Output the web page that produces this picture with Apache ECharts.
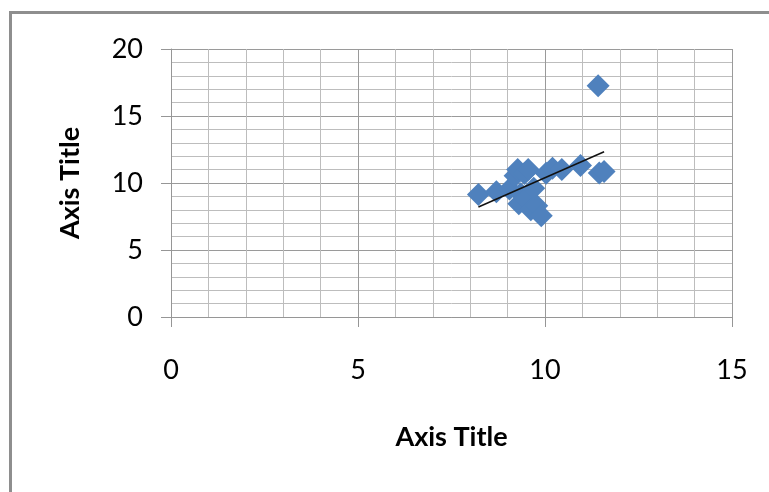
<!DOCTYPE html>
<html>
<head>
<meta charset="utf-8">
<script src="https://cdn.jsdelivr.net/npm/echarts@6/dist/echarts.min.js"></script>
<style>
html,body{margin:0;padding:0;background:#fff;}
#wrap{position:relative;width:769px;height:492px;overflow:hidden;background:#fff;}
#frame{position:absolute;left:9px;top:11px;width:800px;height:520px;border-left:3px solid #8e8e8e;border-top:3px solid #8e8e8e;}
#chart{position:absolute;left:0;top:0;width:769px;height:492px;}
</style>
</head>
<body>
<div id="wrap"><div id="frame"></div><div id="chart"></div></div>
<script>
// Data
var xValues = [8.22, 8.70, 9.05, 9.20, 9.27, 9.45, 9.55, 9.35, 9.30, 9.50, 9.62, 9.78, 9.90, 9.70, 10.03, 10.20, 10.45, 10.95, 11.45, 11.58, 11.42];
var yValues = [9.15, 9.35, 9.55, 10.55, 11.00, 10.70, 11.00, 9.20, 8.45, 8.80, 8.00, 8.30, 7.55, 9.60, 10.72, 11.10, 11.00, 11.30, 10.75, 10.85, 17.25];
var xTicks = [0, 5, 10, 15];
var yTicks = [0, 5, 10, 15, 20];
var xTitle = 'Axis Title';
var yTitle = 'Axis Title';

var points = xValues.map(function (x, i) { return [x, yValues[i]]; });

// Linear trendline (least squares) computed from the data
var n = xValues.length, mx = 0, my = 0;
for (var i = 0; i < n; i++) { mx += xValues[i]; my += yValues[i]; }
mx /= n; my /= n;
var sxy = 0, sxx = 0;
for (var j = 0; j < n; j++) { sxy += (xValues[j] - mx) * (yValues[j] - my); sxx += (xValues[j] - mx) * (xValues[j] - mx); }
var slope = sxy / sxx, icpt = my - slope * mx;
var xmin = Math.min.apply(null, xValues), xmax = Math.max.apply(null, xValues);
var trend = [[xmin, icpt + slope * xmin], [xmax, icpt + slope * xmax]];

var font = 'Lato';
var chart = echarts.init(document.getElementById('chart'), null, {renderer: 'canvas'});
chart.setOption({
  animation: false,
  backgroundColor: 'transparent',
  grid: {left: 171, right: 37, top: 49, bottom: 175},
  xAxis: {
    type: 'value', min: xTicks[0], max: xTicks[xTicks.length - 1], interval: 5,
    name: xTitle, nameLocation: 'middle', nameGap: 107,
    nameTextStyle: {fontFamily: font, fontWeight: 'bold', fontSize: 27, color: '#000'},
    axisLine: {show: true, onZero: false, lineStyle: {color: '#969696', width: 1}},
    axisTick: {show: true, inside: false, length: 10, lineStyle: {color: '#969696'}},
    axisLabel: {margin: 40, fontFamily: font, fontSize: 27, color: '#000'},
    splitLine: {show: true, lineStyle: {color: '#9a9a9a', width: 1}},
    minorTick: {show: false, splitNumber: 5},
    minorSplitLine: {show: true, lineStyle: {color: '#bdbdbd', width: 1}}
  },
  yAxis: {
    type: 'value', min: yTicks[0], max: yTicks[yTicks.length - 1], interval: 5,
    name: yTitle, nameLocation: 'middle', nameGap: 87, nameRotate: 90,
    nameTextStyle: {fontFamily: font, fontWeight: 'bold', fontSize: 27, color: '#000'},
    axisLine: {show: true, onZero: false, lineStyle: {color: '#969696', width: 1}},
    axisTick: {show: true, inside: false, length: 10, lineStyle: {color: '#969696'}},
    axisLabel: {margin: 28, fontFamily: font, fontSize: 27, color: '#000'},
    splitLine: {show: true, lineStyle: {color: '#9a9a9a', width: 1}},
    minorTick: {show: false, splitNumber: 5},
    minorSplitLine: {show: true, lineStyle: {color: '#bdbdbd', width: 1}}
  },
  series: [
    {
      type: 'scatter', data: points, symbol: 'diamond', symbolSize: 23,
      itemStyle: {color: '#4f81bd', opacity: 1}, z: 2
    },
    {
      type: 'line', data: trend, symbol: 'none', z: 3,
      lineStyle: {color: '#111', width: 1.5}
    }
  ]
});
</script>
</body>
</html>
